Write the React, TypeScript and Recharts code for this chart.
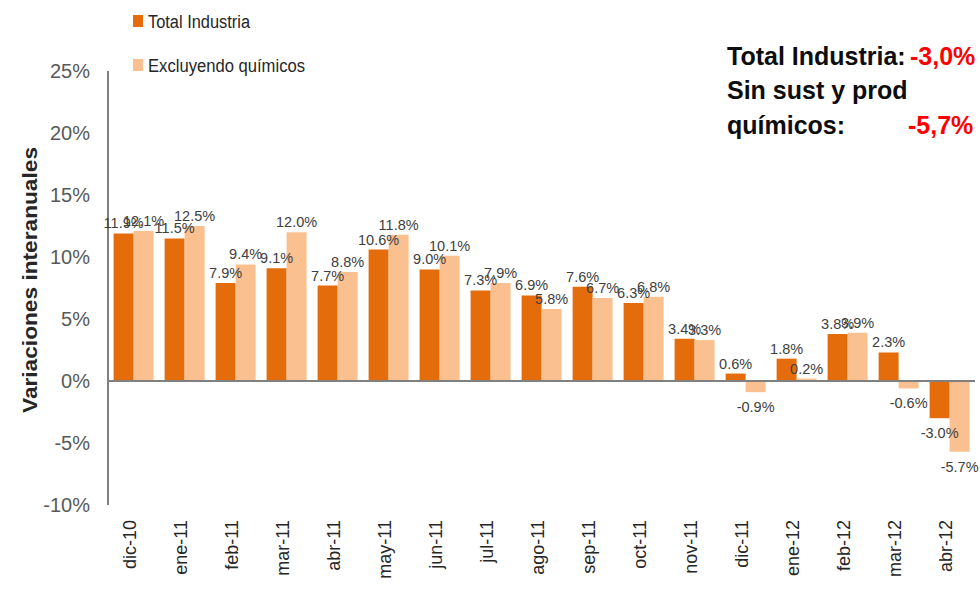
import React from 'react';
import { BarChart, Bar, XAxis, YAxis, ReferenceLine, LabelList } from 'recharts';

const categories = ['dic-10', 'ene-11', 'feb-11', 'mar-11', 'abr-11', 'may-11', 'jun-11', 'jul-11', 'ago-11', 'sep-11', 'oct-11', 'nov-11', 'dic-11', 'ene-12', 'feb-12', 'mar-12', 'abr-12'];
const totalIndustria = [11.9, 11.5, 7.9, 9.1, 7.7, 10.6, 9.0, 7.3, 6.9, 7.6, 6.3, 3.4, 0.6, 1.8, 3.8, 2.3, -3.0];
const excluyendoQuimicos = [12.1, 12.5, 9.4, 12.0, 8.8, 11.8, 10.1, 7.9, 5.8, 6.7, 6.8, 3.3, -0.9, 0.2, 3.9, -0.6, -5.7];
const yTicks = [-10, -5, 0, 5, 10, 15, 20, 25];
const seriesNames = ['Total Industria', 'Excluyendo químicos'];
const summaryTotal = '-3,0%';
const summarySin = '-5,7%';

const data = categories.map((c, i) => ({ cat: c, total: totalIndustria[i], excl: excluyendoQuimicos[i] }));

const ORANGE = '#E46C0A';
const PEACH = '#FAC090';
const FONT = '"Liberation Sans", Arial, sans-serif';

const ValueLabel = (props: any) => {
  const { x, y, width, height, value } = props;
  const v = Number(value);
  const cx = x + width / 2;
  let ty: number;
  if (v >= 0) {
    ty = Math.min(y, y + height) - 5;
  } else {
    ty = Math.max(y, y + height) + 20;
  }
  return (
    <text x={cx} y={ty} textAnchor="middle" fontSize={14.5} fill="#404040" fontFamily={FONT}>
      {v.toFixed(1)}%
    </text>
  );
};

const XTick = (props: any) => {
  const { x, y, payload } = props;
  const tx = x - 4;
  const ty = y + 13;
  return (
    <text x={tx} y={ty} transform={`rotate(-90, ${tx}, ${ty})`} textAnchor="end" dominantBaseline="central" fontSize={18} fill="#262626" fontFamily={FONT}>
      {payload.value}
    </text>
  );
};

export default function App() {
  return (
    <div style={{ position: 'fixed', left: 0, top: 0, width: 980, height: 599, background: '#fff' }}>
      <BarChart
        width={980}
        height={599}
        data={data}
        margin={{ top: 71, right: 5, left: 8, bottom: 0 }}
        barCategoryGap="11%"
        barGap={0}
      >
        <XAxis dataKey="cat" axisLine={false} tickLine={false} tickSize={0} height={94} interval={0} tick={<XTick />} />
        <YAxis
          width={100}
          domain={[-10, 25]}
          ticks={yTicks}
          tickFormatter={(v: number) => `${v}%`}
          axisLine={{ stroke: '#808080', strokeWidth: 2 }}
          tickLine={false}
          tickMargin={12}
          tick={{ fontSize: 20, fill: '#595959', fontFamily: FONT }}
        />
        <ReferenceLine y={0} stroke="#808080" strokeWidth={2} />
        <Bar dataKey="total" name={seriesNames[0]} fill={ORANGE} isAnimationActive={false}>
          <LabelList dataKey="total" content={<ValueLabel />} />
        </Bar>
        <Bar dataKey="excl" name={seriesNames[1]} fill={PEACH} isAnimationActive={false}>
          <LabelList dataKey="excl" content={<ValueLabel />} />
        </Bar>
      </BarChart>
      <svg width={980} height={599} style={{ position: 'absolute', left: 0, top: 0, pointerEvents: 'none' }}>
        <rect x={133} y={15} width={10} height={12} fill={ORANGE} />
        <text x={148} y={28} fontSize={18} fill="#262626" fontFamily={FONT} textLength={102} lengthAdjust="spacingAndGlyphs">{seriesNames[0]}</text>
        <rect x={133} y={59} width={10} height={12} fill={PEACH} />
        <text x={148} y={72} fontSize={18} fill="#262626" fontFamily={FONT} textLength={157} lengthAdjust="spacingAndGlyphs">{seriesNames[1]}</text>
        <text x={30} y={280} transform="rotate(-90, 30, 280)" textAnchor="middle" dominantBaseline="central" fontSize={20} fontWeight="bold" fill="#262626" fontFamily={FONT} textLength={266} lengthAdjust="spacingAndGlyphs">
          Variaciones interanuales
        </text>
        <text x={727} y={65} fontSize={25} fontWeight="bold" fill="#0d0d0d" fontFamily={FONT}>Total Industria:</text>
        <text x={910} y={65} fontSize={25} fontWeight="bold" fill="#FF0000" fontFamily={FONT}>{summaryTotal}</text>
        <text x={727} y={99} fontSize={25} fontWeight="bold" fill="#0d0d0d" fontFamily={FONT}>Sin sust y prod</text>
        <text x={727} y={134} fontSize={25} fontWeight="bold" fill="#0d0d0d" fontFamily={FONT}>químicos:</text>
        <text x={908} y={134} fontSize={25} fontWeight="bold" fill="#FF0000" fontFamily={FONT}>{summarySin}</text>
      </svg>
    </div>
  );
}
